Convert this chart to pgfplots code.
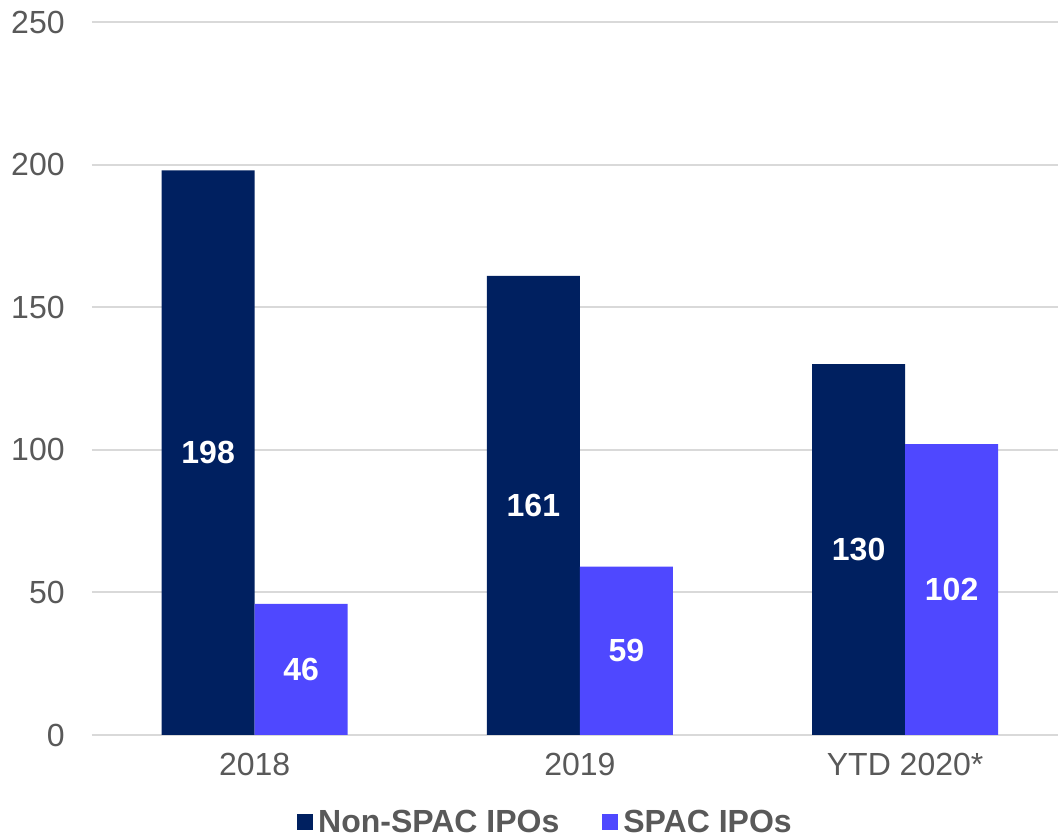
\documentclass[border=0pt]{standalone}
\usepackage{pgfplots}
\pgfplotsset{compat=1.18}
\usepackage{fontspec}
\setmainfont{Liberation Sans}

\definecolor{navy}{HTML}{002060}
\definecolor{spac}{HTML}{4F48FF}
\definecolor{txt}{HTML}{595959}
\definecolor{gridc}{HTML}{D9D9D9}

\begin{document}
\begin{tikzpicture}
% 1 px of the reference = 0.75pt, axis box lower left at origin
\useasboundingbox (-69pt,-76.5pt) rectangle (724.5pt,551.25pt);
\begin{axis}[
  at={(0,0)}, anchor=south west,
  width=724.5pt, height=534.75pt,
  scale only axis,
  xmin=-0.5, xmax=2.47,
  ymin=0, ymax=250,
  ytick={0,50,100,150,200,250},
  xtick={0,1,2},
  xticklabels={2018,2019,YTD 2020*},
  axis y line*=left,
  y axis line style={draw=none},
  axis x line*=bottom,
  x axis line style={gridc, line width=1.4pt},
  major tick length=0pt,
  ymajorgrids=true,
  grid style={gridc, line width=1.4pt},
  tick label style={font=\fontsize{24}{28}\selectfont, text=txt},
  /pgf/number format/assume math mode=true,
  yticklabel style={xshift=-17pt},
  xticklabel style={yshift=-10pt},
  legend style={at={(0.471,-0.122)}, anchor=center, draw=none, fill=none,
    legend columns=2, font=\fontsize{24}{28}\selectfont\bfseries,
    text=txt, /tikz/every even column/.append style={column sep=28pt},
    nodes={inner xsep=4pt}},
  legend image code/.code={\fill[#1] (0pt,-6pt) rectangle (12pt,6pt);},
  nodes near coords style={font=\fontsize{24}{28}\selectfont\bfseries, text=white, anchor=center},
]
\addplot[ybar, bar width=69.75pt, bar shift=-34.875pt, fill=navy, draw=none]
  coordinates {(0,198) (1,161) (2,130)};
\addlegendentry{Non-SPAC IPOs}
\addplot[ybar, bar width=69.75pt, bar shift=34.875pt, fill=spac, draw=none]
  coordinates {(0,46) (1,59) (2,102)};
\addlegendentry{SPAC IPOs}
% value labels at half bar height
\addplot[draw=none, forget plot, nodes near coords, point meta=explicit symbolic,
  every node near coord/.append style={xshift=-34.875pt}]
  coordinates {(0,99)[198] (1,80.5)[161] (2,65)[130]};
\addplot[draw=none, forget plot, nodes near coords, point meta=explicit symbolic,
  every node near coord/.append style={xshift=34.875pt}]
  coordinates {(0,23)[46] (1,29.5)[59] (2,51)[102]};
\end{axis}
\end{tikzpicture}
\end{document}
